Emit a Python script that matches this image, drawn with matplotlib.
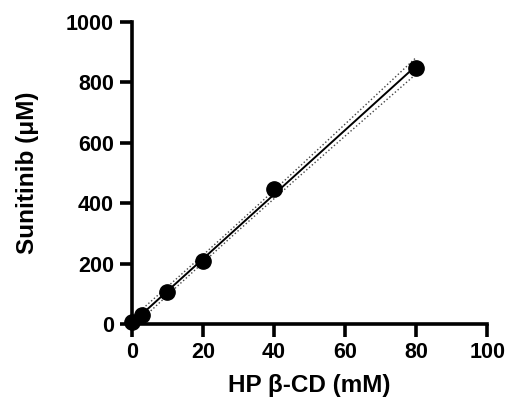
import matplotlib
matplotlib.use("Agg")
import matplotlib.pyplot as plt
import numpy as np

plt.rcParams['font.family'] = ['Liberation Sans', 'DejaVu Sans']
plt.rcParams['font.weight'] = 'bold'

conc_mM = [0, 3, 10, 20, 40, 80]
sunitinib_uM = [5, 30, 106, 208, 447, 848]

x = np.array(conc_mM, dtype=float)
y = np.array(sunitinib_uM, dtype=float)

# linear fit + 95% confidence band
slope, intercept = np.polyfit(x, y, 1)
n = len(x)
resid = y - (slope * x + intercept)
s = np.sqrt(np.sum(resid ** 2) / (n - 2))
t = 2.776  # t(0.975, df=4)
xf = np.linspace(x.min(), x.max(), 200)
yf = slope * xf + intercept
se = s * np.sqrt(1 / n + (xf - x.mean()) ** 2 / np.sum((x - x.mean()) ** 2))

fig = plt.figure(figsize=(5.07, 4.05), dpi=100)
ax = fig.add_axes([0.26, 0.2, 0.701, 0.746])

ax.plot(xf, yf, color='black', lw=1.4, zorder=2)
ax.plot(xf, yf + t * se, color='#444444', lw=1.0, ls=':', zorder=2)
ax.plot(xf, yf - t * se, color='#444444', lw=1.0, ls=':', zorder=2)
ax.plot(x, y, 'o', color='black', ms=11, zorder=3, clip_on=False)

ax.set_xlim(0, 100)
ax.set_ylim(0, 1000)
ax.set_xticks([0, 20, 40, 60, 80, 100])
ax.set_yticks([0, 200, 400, 600, 800, 1000])

for side in ['top', 'right']:
    ax.spines[side].set_visible(False)
for side in ['left', 'bottom']:
    ax.spines[side].set_linewidth(2.6)
ax.tick_params(width=2.6, length=9, labelsize=15.5, pad=4)
for lbl in ax.get_xticklabels() + ax.get_yticklabels():
    lbl.set_fontweight('bold')

ax.set_xlabel('HP β-CD (mM)', fontsize=17.5, fontweight='bold', labelpad=8)
ax.set_ylabel('Sunitinib (μM)', fontsize=17.5, fontweight='bold', labelpad=19)

fig.savefig('out.png', dpi=100)
